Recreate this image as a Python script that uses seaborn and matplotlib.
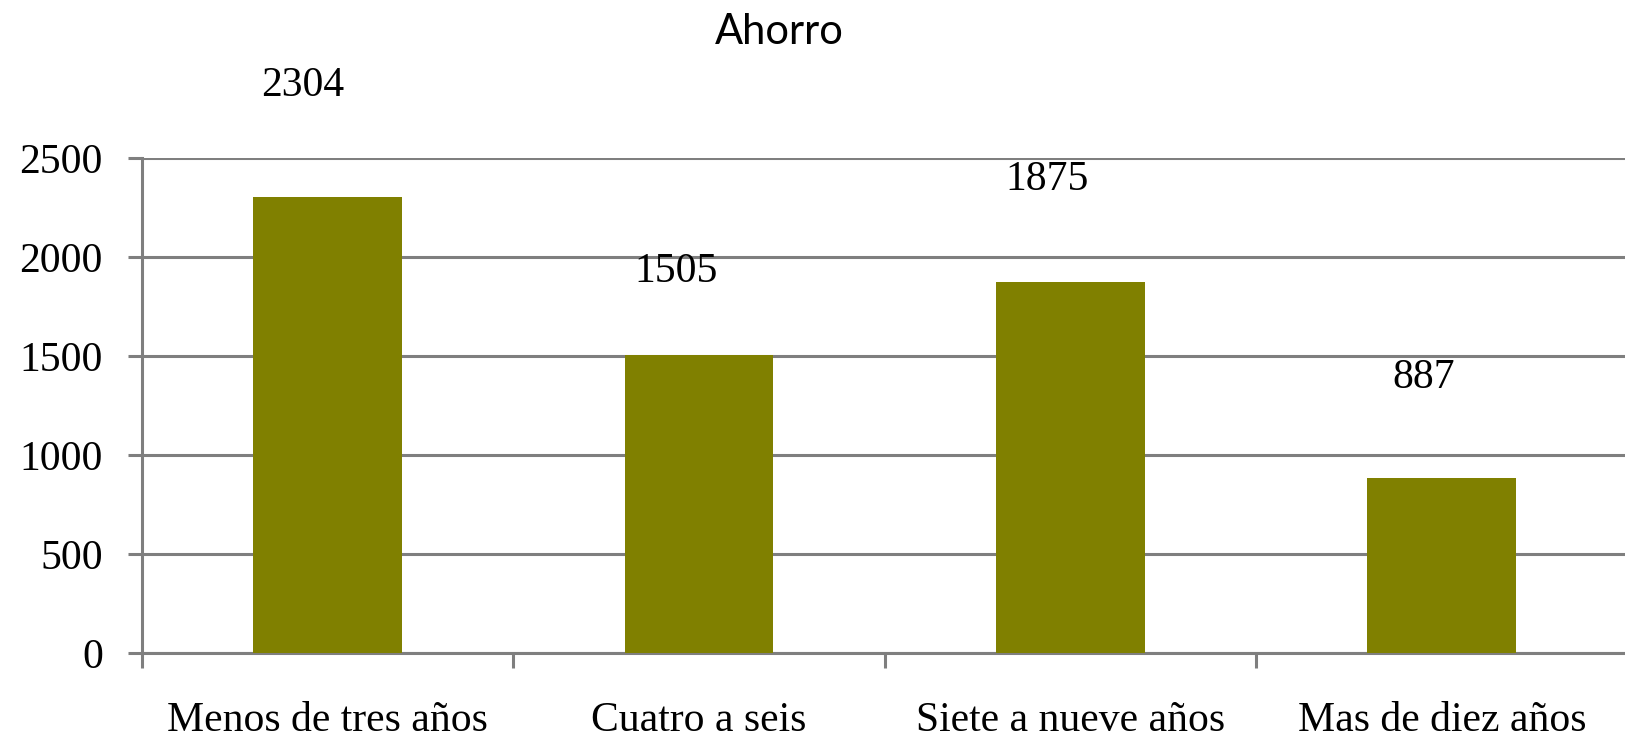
import numpy as np
import pandas as pd
import seaborn as sns
import matplotlib.pyplot as plt

sns.set_style("white")
plt.rcParams['font.family'] = ['Liberation Serif', 'DejaVu Serif']
plt.rcParams['text.color'] = 'black'
plt.rcParams['xtick.color'] = 'black'
plt.rcParams['ytick.color'] = 'black'

# datos del grafico
categorias = ['Menos de tres años', 'Cuatro a seis', 'Siete a nueve años', 'Mas de diez años']
ahorro = [2304, 1505, 1875, 887]
y_ticks = [0, 500, 1000, 1500, 2000, 2500]

# desplazamiento de las etiquetas (pixeles), como en el original
label_dx = [-25, -23, -23, -18]
label_dy = [111, 84, 102, 100]

GRIS = '#7f7f7f'
OLIVA = '#808000'

df = pd.DataFrame({'categoria': categorias, 'ahorro': ahorro})

fig = plt.figure(figsize=(16.25, 7.41), dpi=100)
ax = fig.add_axes([141.7 / 1625, (741 - 653.3) / 741, 1 - 141.7 / 1625, (653.3 - 158.3) / 741])

sns.barplot(data=df, x='categoria', y='ahorro', color=OLIVA, saturation=1,
            width=0.4, ax=ax, zorder=3, linewidth=0, edgecolor='none')

ax.set_ylim(0, 2500)
ax.set_xlim(-0.5, 3.5 - 2.5 / 371.5)
ax.set_yticks(y_ticks)
ax.set_yticklabels([str(t) for t in y_ticks])
ax.grid(axis='y', color=GRIS, linewidth=2.2, zorder=0)
ax.grid(axis='x', visible=False)
ax.set_axisbelow(True)

# ticks del eje x en los limites de categoria
ax.set_xticks([-0.5, 0.5, 1.5, 2.5])
ax.set_xticklabels([])
ax.set_xticks(range(len(categorias)), minor=True)
ax.set_xticklabels(categorias, minor=True)
ax.tick_params(axis='x', which='major', bottom=True, direction='out', length=11, width=2.2, color=GRIS)
ax.tick_params(axis='x', which='minor', bottom=False, length=0, pad=35, labelsize=30, labelcolor='black')
ax.tick_params(axis='y', left=True, direction='out', length=10, width=2.2, color=GRIS, pad=18,
               labelsize=30, labelcolor='black')

ax.set_xlabel('')
ax.set_ylabel('')

for s in ['top', 'right']:
    ax.spines[s].set_visible(False)
for s in ['left', 'bottom']:
    ax.spines[s].set_color(GRIS)
    ax.spines[s].set_linewidth(2.2)

for i, v in enumerate(ahorro):
    ax.annotate(str(v), xy=(i, v), xytext=(label_dx[i], label_dy[i]),
                textcoords='offset pixels', ha='center', va='center', fontsize=30, color='black')

fig.text(779 / 1625, 1 - 32 / 741, 'Ahorro', ha='center', va='center',
         fontsize=30, color='black', family=['Lato', 'DejaVu Sans'])

fig.savefig('out.png', dpi=100)
